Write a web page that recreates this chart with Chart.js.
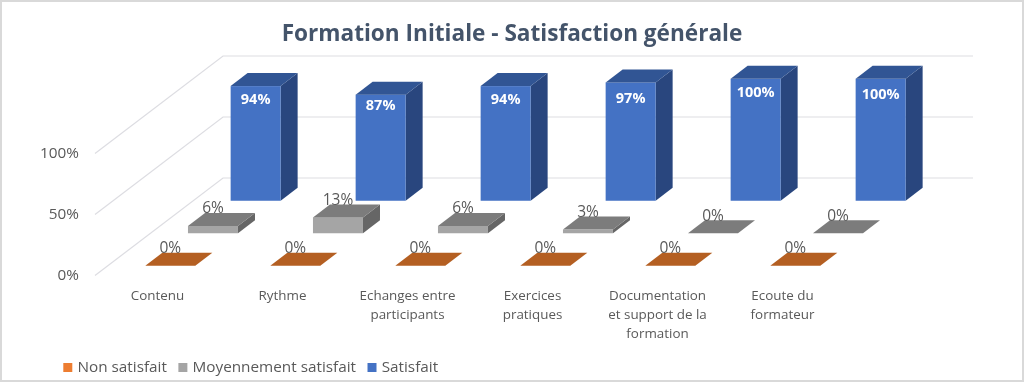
<!DOCTYPE html>
<html><head><meta charset="utf-8">
<style>html,body{margin:0;padding:0;background:#fff}#w{width:1024px;height:382px}</style>
<script src="https://cdn.jsdelivr.net/npm/chart.js@4/dist/chart.umd.min.js"></script>
</head><body><div id="w"><canvas id="c" width="1024" height="382"></canvas></div>
<script>
const categories = ["Contenu","Rythme",["Echanges entre","participants"],["Exercices","pratiques"],["Documentation","et support de la","formation"],["Ecoute du","formateur"]];
const nonSatisfait = [0,0,0,0,0,0];
const moyennementSatisfait = [6,13,6,3,0,0];
const satisfait = [94,87,94,97,100,100];
const seriesNames = ["Non satisfait","Moyennement satisfait","Satisfait"];
const frontColors = ["#ED7D31","#A5A5A5","#4472C4"];
const topColors = ["#B45F22","#7C7C7C","#315594"];
const sideColors = ["#8F4A1C","#666666","#29467E"];
const FONT = "'Open Sans', sans-serif";
const WALL = {dx:128, dy:97.5};
const ROW = {dx:42.67, dy:32.5, startX:12.8, startY:9.75, barDx:17, barDy:13};
const insideLabelNudge = [0,-3,0,2,0,2];
const poly = (ctx, pts, fill) => { ctx.beginPath(); pts.forEach((p,i)=> i?ctx.lineTo(p[0],p[1]):ctx.moveTo(p[0],p[1])); ctx.closePath(); ctx.fillStyle=fill; ctx.fill(); };
const offset = i => [ROW.startX + ROW.dx*i, ROW.startY + ROW.dy*i];
const bars3d = {
  id:'bars3d',
  afterLayout(chart){
    chart.titleBlock.left = 0; chart.titleBlock.right = 1024;
    chart.legend.left = 51.8; chart.legend.top = 382 - chart.legend.height + 3.2;
  },
  beforeDraw(chart){
    const c = chart.ctx; c.save();
    c.fillStyle='#fff'; c.fillRect(0,0,1024,382);
    c.strokeStyle='#D9D9D9'; c.lineWidth=2; c.strokeRect(1,1,1022,380);
    c.restore();
  },
  beforeDatasetsDraw(chart){
    const c = chart.ctx, y = chart.scales.y, a = chart.chartArea;
    c.save(); c.strokeStyle='#DDDDE2'; c.lineWidth=1.2;
    y.ticks.forEach((t,i)=>{
      const py = y.getPixelForTick(i);
      c.beginPath(); c.moveTo(a.left,py); c.lineTo(a.left+WALL.dx,py-WALL.dy); c.lineTo(a.right+WALL.dx,py-WALL.dy); c.stroke();
    });
    c.restore();
  },
  beforeDatasetDraw(chart,args){
    const c = chart.ctx, i = args.index, [ox,oy] = offset(i);
    c.save();
    chart.getDatasetMeta(i).data.forEach(el=>{
      const {x,y,base,width} = el.getProps(['x','y','base','width']);
      const l = x-width/2+ox, r = x+width/2+ox, t = y-oy, b = base-oy;
      if (b-t>0.2) {
        poly(c,[[r,t],[r+ROW.barDx,t-ROW.barDy],[r+ROW.barDx,b-ROW.barDy],[r,b]],sideColors[i]);
        c.fillStyle=frontColors[i]; c.fillRect(l,t,r-l,b-t);
      }
      poly(c,[[l,t],[l+ROW.barDx,t-ROW.barDy],[r+ROW.barDx,t-ROW.barDy],[r,t]],topColors[i]);
    });
    c.restore();
    return false;
  },
  afterDatasetsDraw(chart){
    const c = chart.ctx;
    c.save(); c.textAlign='center'; c.textBaseline='middle';
    chart.data.datasets.forEach((ds,i)=>{
      const [ox,oy] = offset(i), inside = i===2;
      c.font = (inside?'bold 14.5px ':'15.5px ')+FONT;
      c.fillStyle = inside?'#FFFFFF':'#595959';
      chart.getDatasetMeta(i).data.forEach((el,k)=>{
        const p = el.getProps(['x','y']);
        c.fillText(ds.data[k]+'%', p.x+ox, p.y-oy+(inside?14+insideLabelNudge[k]:-17));
      });
    });
    c.restore();
  }
};
new Chart(document.getElementById('c'),{
  type:'bar',
  data:{labels:categories,datasets:[
    {label:seriesNames[0],data:nonSatisfait,backgroundColor:frontColors[0],borderColor:frontColors[0],borderWidth:5},
    {label:seriesNames[1],data:moyennementSatisfait,backgroundColor:frontColors[1],borderColor:frontColors[1],borderWidth:5},
    {label:seriesNames[2],data:satisfait,backgroundColor:frontColors[2],borderColor:frontColors[2],borderWidth:5}
  ]},
  plugins:[bars3d],
  options:{
    responsive:false,animation:false,
    grouped:false,barPercentage:0.4,categoryPercentage:1,
    layout:{padding:{left:0,right:179,top:0,bottom:0}},
    plugins:{
      tooltip:{enabled:false},
      title:{display:true,text:"Formation Initiale - Satisfaction générale",color:'#44546A',
        font:{family:FONT,size:22.6,weight:'bold',lineHeight:1.2},padding:{top:21.5,bottom:104.9}},
      legend:{position:'bottom',align:'start',
        labels:{boxWidth:4,boxHeight:4,padding:14,color:'#595959',font:{family:FONT,size:15.3}}}
    },
    scales:{
      x:{grid:{display:false,drawTicks:false},border:{display:false},
        ticks:{color:'#595959',font:{family:FONT,size:13.4,lineHeight:1.42},padding:11,autoSkip:false,maxRotation:0,minRotation:0},
        afterFit(s){ s.height = 106.5 - s.chart.legend.height; }},
      y:{min:0,max:100,grid:{display:false,drawTicks:false},border:{display:false},
        ticks:{stepSize:50,color:'#595959',font:{family:FONT,size:15.3},padding:16,callback:v=>v+'%'},
        afterFit(s){ s.width = 95; }}
    }
  }
});
</script></body></html>
